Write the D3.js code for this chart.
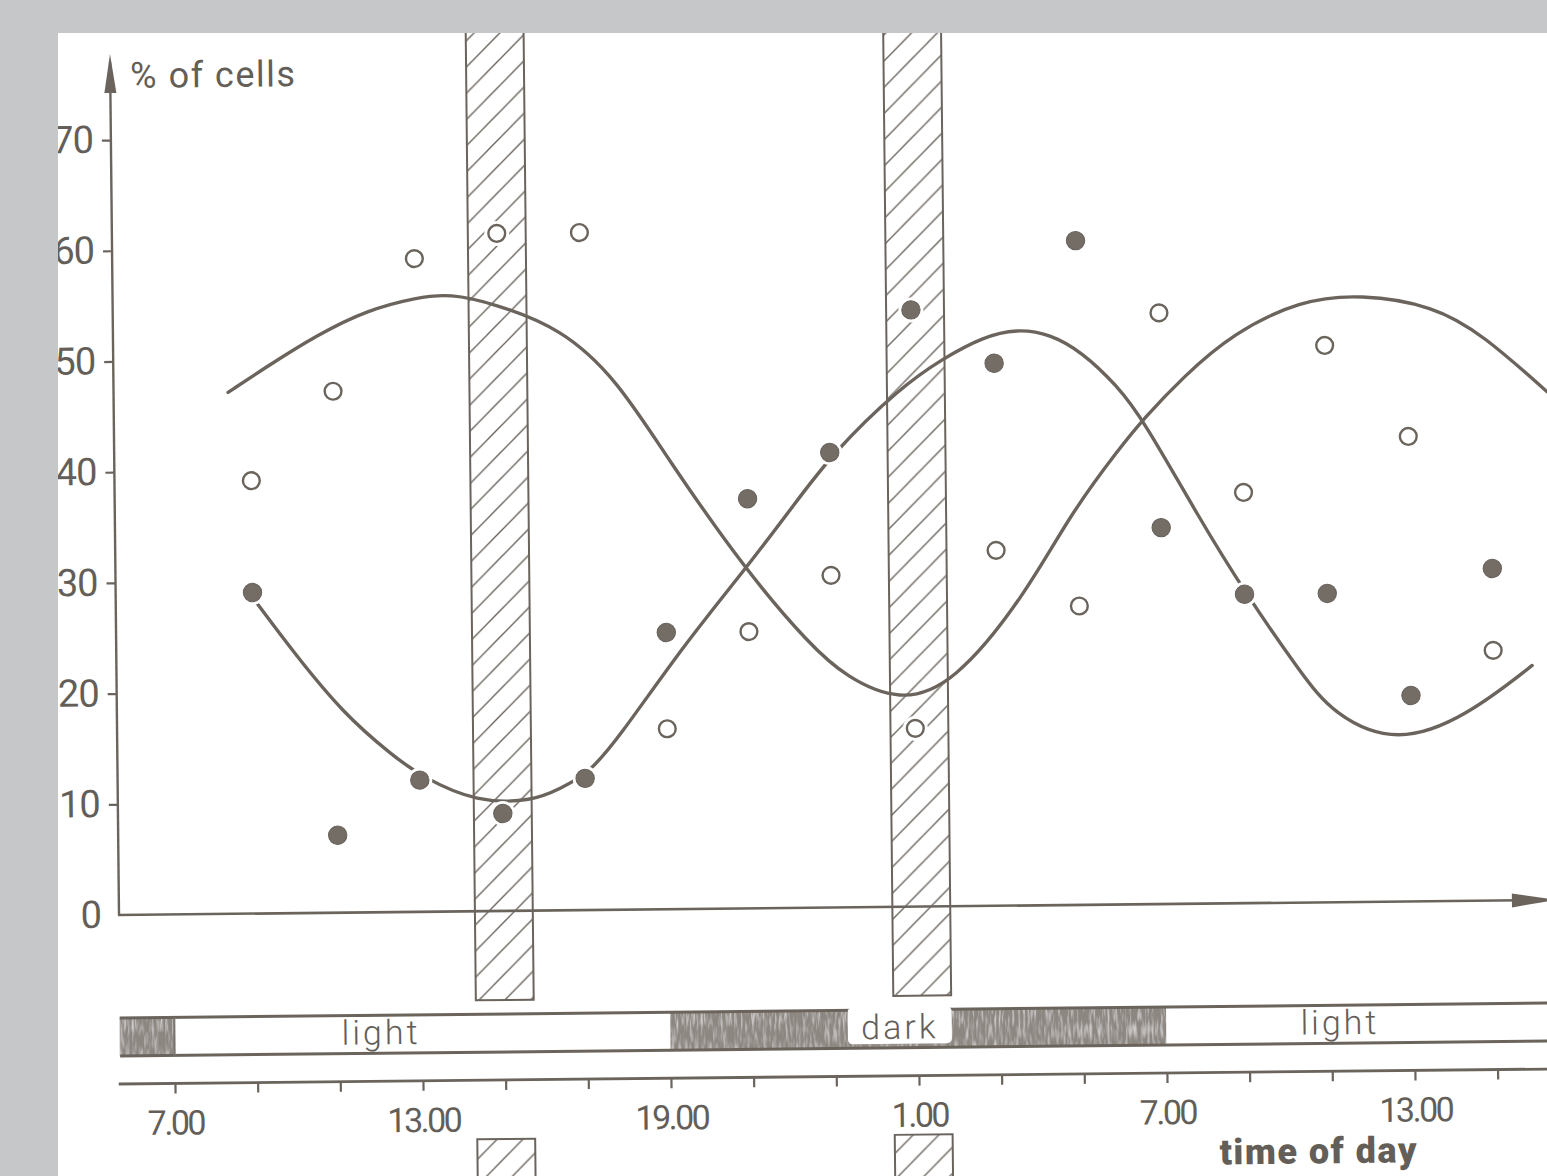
<!DOCTYPE html>
<html>
<head>
<meta charset="utf-8">
<script src="https://cdn.jsdelivr.net/npm/d3@7"></script>
<style>
  html, body { margin: 0; padding: 0; background: #c6c7c9; }
  svg { display: block; }
  text { font-family: Roboto, "DejaVu Sans", sans-serif; fill: #645e58; }
</style>
</head>
<body>
<div id="chart"></div>
<script>
// sampling times, hours counted from midnight of day 1 (25 = 1.00 next day)
const sampleHours = [9, 11, 13, 15, 17, 19, 21, 23, 25, 27, 29, 31, 33, 35, 37, 39];
const openPct   = [39.1, 47.1, 59.0, 61.2, 61.2, 16.3, 25.0, 30.0, 16.1, 32.1, 27.0, 53.4, 37.1, 50.3, 42.0, 22.6];
const filledPct = [29.0, 7.0, 11.9, 8.8, 11.9, 25.0, 37.0, 41.1, 53.9, 49.0, 60.0, 34.0, 27.9, 27.9, 18.6, 30.0];

// hand drawn fit curves
const curveAHours = [8.46, 9.41, 10.63, 11.84, 13.06, 13.86, 14.89, 16.53, 17.87, 19.06, 20.92, 22.48, 23.34, 24.62, 25.93, 27.67, 28.82, 30.03, 30.59, 31.57, 32.79, 34.42, 35.87, 37.64, 38.84, 40.37];
const curveAPct   = [47.1, 49.4, 52.2, 54.4, 55.5, 55.8, 54.9, 52.6, 47.9, 40.8, 30.6, 23.7, 20.8, 18.5, 20.0, 27.9, 35.4, 41.3, 43.8, 47.6, 51.5, 54.4, 54.9, 53.8, 51.1, 45.9];
const curveBHours = [9.11, 9.97, 11.16, 12.36, 13.05, 14.38, 15.74, 16.39, 17.07, 17.78, 19.45, 20.92, 22.08, 23.08, 24.72, 25.77, 26.74, 27.56, 28.36, 29.14, 29.96, 30.59, 31.94, 32.97, 34.33, 35.12, 36.66, 38.36, 39.94];
const curveBPct   = [28.0, 23.6, 18.0, 14.1, 12.2, 9.8, 9.9, 11.0, 12.3, 15.3, 24.0, 30.6, 36.2, 41.1, 46.9, 49.5, 51.4, 52.1, 51.6, 49.9, 46.9, 43.8, 34.7, 28.3, 20.8, 16.9, 14.2, 16.7, 21.2];

// hatched periods
const bandStart = [14.3, 24.4];
const bandEnd   = [15.7, 25.8];

// light / dark regime
const phaseStart = [5.68, 7, 19, 31];
const phaseEnd   = [7, 19, 31, 41];
const phaseType  = ['dark', 'light', 'dark', 'light'];
const phaseLabels     = ['light', 'dark', 'light'];
const phaseLabelHours = [12, 24.55, 35.2];

const yTicks = [0, 10, 20, 30, 40, 50, 60, 70];
const timeTicks = d3.range(7, 40, 2);
const timeLabelHours = [7, 13, 19, 25, 31, 37];
const timeLabelText  = ['7.00', '13.00', '19.00', '1.00', '7.00', '13.00'];

const width = 1547;
const height = 1176;
const ink = '#6b645d';
const dotFill = '#746d66';

const svg = d3.select('#chart')
    .append('svg')
    .attr('width', width)
    .attr('height', height);

const defs = svg.append('defs');

defs.append('clipPath').attr('id', 'page')
    .append('rect')
    .attr('x', 58).attr('y', 33)
    .attr('width', width - 58).attr('height', height - 33);

const hatch = defs.append('pattern')
    .attr('id', 'hatch')
    .attr('patternUnits', 'userSpaceOnUse')
    .attr('width', 26).attr('height', 26);
hatch.append('path')
    .attr('d', 'M0,26 L26,0 M-6.5,6.5 L6.5,-6.5 M19.5,32.5 L32.5,19.5')
    .attr('stroke', ink)
    .attr('stroke-width', 1.4);

// grainy print for the dark bar
const grain = defs.append('filter').attr('id', 'grain')
    .attr('x', 0).attr('y', 0).attr('width', 1).attr('height', 1);
grain.append('feTurbulence')
    .attr('type', 'fractalNoise')
    .attr('baseFrequency', '0.45 0.06')
    .attr('numOctaves', 2)
    .attr('seed', 3)
    .attr('result', 'noise');
grain.append('feColorMatrix')
    .attr('in', 'noise')
    .attr('type', 'matrix')
    .attr('values', '0 0 0 0 0.9  0 0 0 0 0.88  0 0 0 0 0.9  0 0 0 1.6 -0.75')
    .attr('result', 'specks');
grain.append('feComposite')
    .attr('in', 'specks').attr('in2', 'SourceGraphic')
    .attr('operator', 'in').attr('result', 'specksIn');
const merge = grain.append('feMerge');
merge.append('feMergeNode').attr('in', 'SourceGraphic');
merge.append('feMergeNode').attr('in', 'specksIn');

// scanned page
svg.append('rect')
    .attr('x', 58).attr('y', 33)
    .attr('width', width - 58).attr('height', height - 33)
    .attr('fill', '#ffffff');

// the scan is slightly tilted
const g = svg.append('g')
    .attr('clip-path', 'url(#page)')
    .append('g')
    .attr('transform', 'rotate(-0.6,118,915)');

const x = d3.scaleLinear().domain([7, 13]).range([173.2, 421.2]);
const y = d3.scaleLinear().domain([0, 70]).range([915, 140]);

const axisX0 = 119;
const timeAxisY = 1084;
const barTop = 1018;
const barBottom = 1056;

// hatched columns (broken around the light/dark bar and time axis)
const bands = bandStart.map((s, i) => ({ s: s, e: bandEnd[i] }));
[[-20, 1004], [1143, 1200]].forEach(seg => {
    g.append('g').selectAll('rect')
        .data(bands)
        .join('rect')
        .attr('x', d => x(d.s))
        .attr('width', d => x(d.e) - x(d.s))
        .attr('y', seg[0])
        .attr('height', seg[1] - seg[0])
        .attr('fill', 'url(#hatch)')
        .attr('stroke', ink)
        .attr('stroke-width', 2);
});

// y axis
const yAxis = g.append('g')
    .attr('transform', 'translate(' + axisX0 + ',0)')
    .call(d3.axisLeft(y).tickValues(yTicks).tickSize(9).tickPadding(9).tickFormat(d3.format('d')));
yAxis.select('.domain').remove();
yAxis.selectAll('line').attr('stroke', ink).attr('stroke-width', 2.2)
    .attr('opacity', d => d === 0 ? 0 : 1);
yAxis.selectAll('text')
    .style('font-size', '38px')
    .style('letter-spacing', '-1px')
    .attr('fill', '#645e58');

g.append('line')
    .attr('x1', axisX0).attr('y1', y(0))
    .attr('x2', axisX0).attr('y2', 62)
    .attr('stroke', ink).attr('stroke-width', 2.4);
g.append('path')
    .attr('d', 'M' + axisX0 + ',54 L' + (axisX0 - 6) + ',93 L' + (axisX0 + 6) + ',93 Z')
    .attr('fill', ink);

g.append('text')
    .attr('x', 139).attr('y', 88)
    .style('font-size', '36px')
    .style('letter-spacing', '1.5px')
    .text('% of cells');

// x axis (value 0) with arrow
g.append('line')
    .attr('x1', 118).attr('y1', y(0))
    .attr('x2', 1520).attr('y2', y(0))
    .attr('stroke', ink).attr('stroke-width', 2.6);
g.append('path')
    .attr('d', 'M1512,' + (y(0) - 7) + ' L1556,' + y(0) + ' L1512,' + (y(0) + 7) + ' Z')
    .attr('fill', ink);

// fitted curves
const line = d3.line()
    .x(d => x(d[0]))
    .y(d => y(d[1]))
    .curve(d3.curveBasis);

const curves = [
    d3.zip(curveAHours, curveAPct),
    d3.zip(curveBHours, curveBPct)
];
g.append('g').selectAll('path')
    .data(curves)
    .join('path')
    .attr('d', line)
    .attr('fill', 'none')
    .attr('stroke', ink)
    .attr('stroke-width', 3.4)
    .attr('stroke-linecap', 'round');

// data points
const openPts = d3.zip(sampleHours, openPct);
const filledPts = d3.zip(sampleHours, filledPct);

g.append('g').selectAll('circle')
    .data(openPts.concat(filledPts))
    .join('circle')
    .attr('cx', d => x(d[0]))
    .attr('cy', d => y(d[1]))
    .attr('r', 12.5)
    .attr('fill', '#ffffff');

g.append('g').selectAll('circle')
    .data(openPts)
    .join('circle')
    .attr('cx', d => x(d[0]))
    .attr('cy', d => y(d[1]))
    .attr('r', 8.4)
    .attr('fill', '#ffffff')
    .attr('stroke', ink)
    .attr('stroke-width', 2.4);

g.append('g').selectAll('circle')
    .data(filledPts)
    .join('circle')
    .attr('cx', d => x(d[0]))
    .attr('cy', d => y(d[1]))
    .attr('r', 9.2)
    .attr('fill', dotFill)
    .attr('stroke', '#67605a')
    .attr('stroke-width', 1);

// light / dark bar
const phases = phaseStart.map((s, i) => ({ s: s, e: phaseEnd[i], type: phaseType[i] }));
g.append('g').selectAll('rect')
    .data(phases)
    .join('rect')
    .attr('x', d => x(d.s))
    .attr('width', d => x(d.e) - x(d.s))
    .attr('y', barTop)
    .attr('height', barBottom - barTop)
    .attr('fill', d => d.type === 'dark' ? '#8d8781' : '#ffffff')
    .attr('filter', d => d.type === 'dark' ? 'url(#grain)' : null);

[barTop, barBottom].forEach(yy => {
    g.append('line')
        .attr('x1', x(phaseStart[0])).attr('x2', x(phaseEnd[phaseEnd.length - 1]))
        .attr('y1', yy).attr('y2', yy)
        .attr('stroke', ink).attr('stroke-width', 3);
});
g.append('line')
    .attr('x1', x(7)).attr('x2', x(7))
    .attr('y1', barTop).attr('y2', barBottom)
    .attr('stroke', '#7a746e').attr('stroke-width', 2);

const labels = phaseLabels.map((t, i) => ({ t: t, h: phaseLabelHours[i] }));
g.append('g').selectAll('rect')
    .data(labels.filter(d => d.t === 'dark'))
    .join('rect')
    .attr('x', d => x(d.h) - 52)
    .attr('y', barTop - 3)
    .attr('width', 104)
    .attr('height', barBottom - barTop - 1)
    .attr('rx', 5)
    .attr('fill', '#ffffff');

g.append('g').selectAll('text')
    .data(labels)
    .join('text')
    .attr('x', d => x(d.h))
    .attr('y', 1047)
    .attr('text-anchor', 'middle')
    .style('font-size', '34px')
    .style('letter-spacing', '3px')
    .style('font-weight', 300)
    .text(d => d.t);

// time of day axis
const tAxis = g.append('g')
    .attr('transform', 'translate(0,' + timeAxisY + ')')
    .call(d3.axisBottom(x)
        .tickValues(timeTicks)
        .tickSize(10)
        .tickPadding(17)
        .tickFormat(h => {
            const i = timeLabelHours.indexOf(h);
            return i < 0 ? '' : timeLabelText[i];
        }));
tAxis.select('.domain').remove();
tAxis.selectAll('line').attr('stroke', ink).attr('stroke-width', 2.2);
tAxis.selectAll('text')
    .style('font-size', '34px')
    .style('letter-spacing', '-2.5px')
    .attr('fill', '#645e58');

g.append('line')
    .attr('x1', 117).attr('x2', 1600)
    .attr('y1', timeAxisY).attr('y2', timeAxisY)
    .attr('stroke', ink).attr('stroke-width', 2.8);

g.append('text')
    .attr('x', 1217).attr('y', 1176)
    .style('font-size', '36px')
    .style('font-weight', 900)
    .style('letter-spacing', '1.5px')
    .attr('fill', '#6e6761')
    .text('time of day');
</script>
</body>
</html>
